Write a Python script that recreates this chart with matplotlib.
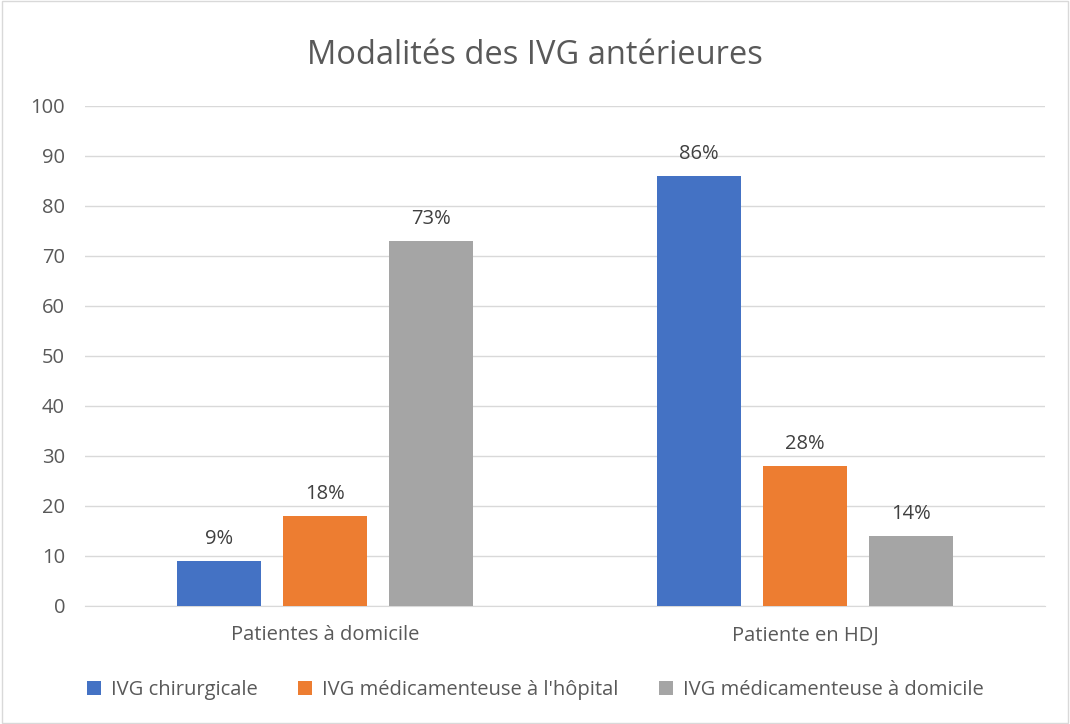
import matplotlib.pyplot as plt
import numpy as np
from matplotlib.patches import Rectangle

categories = ['Patientes à domicile', 'Patiente en HDJ']
series_names = ['IVG chirurgicale', "IVG médicamenteuse à l'hôpital", 'IVG médicamenteuse à domicile']
values = [
    [9, 86],
    [18, 28],
    [73, 14],
]
colors = ['#4472C4', '#ED7D31', '#A5A5A5']

plt.rcParams['font.family'] = ['Open Sans', 'DejaVu Sans']
text_color = '#595959'

fig = plt.figure(figsize=(10.7, 7.24), dpi=100)
ax = fig.add_axes([0.079, 0.163, 0.898, 0.691])

x = np.arange(len(categories))
width = 0.175
step = 0.221
for i, (name, vals) in enumerate(zip(series_names, values)):
    pos = x + (i - 1) * step
    bars = ax.bar(pos, vals, width, color=colors[i], label=name, zorder=3)
    for b, v in zip(bars, vals):
        ax.text(b.get_x() + b.get_width() / 2, v + 2.3, f'{v}%', ha='center', va='bottom',
                fontsize=14.5, color='#404040')

ax.set_xlim(-0.5, 1.5)
ax.set_ylim(0, 100)
ax.set_yticks(range(0, 101, 10))
ax.set_xticks(x)
ax.set_xticklabels(categories)
ax.tick_params(axis='both', length=0, labelsize=14.5, labelcolor=text_color)
ax.tick_params(axis='x', pad=14)
ax.tick_params(axis='y', pad=14)
ax.grid(axis='y', color='#D9D9D9', linewidth=1, zorder=0)
for s in ['top', 'right', 'left']:
    ax.spines[s].set_visible(False)
ax.spines['bottom'].set_color('#D9D9D9')

fig.suptitle('Modalités des IVG antérieures', y=0.946, fontsize=23.5, color=text_color)

fig.legend(loc='lower center', bbox_to_anchor=(0.5, 0.008), ncol=3, frameon=False,
           fontsize=14.5, labelcolor=text_color, handlelength=0.7, handleheight=0.7,
           columnspacing=2.0, handletextpad=0.5)

fig.patches.append(Rectangle((0.002, 0.002), 0.996, 0.996, transform=fig.transFigure,
                             fill=False, edgecolor='#D9D9D9', linewidth=1))

fig.savefig('out.png', dpi=100)
